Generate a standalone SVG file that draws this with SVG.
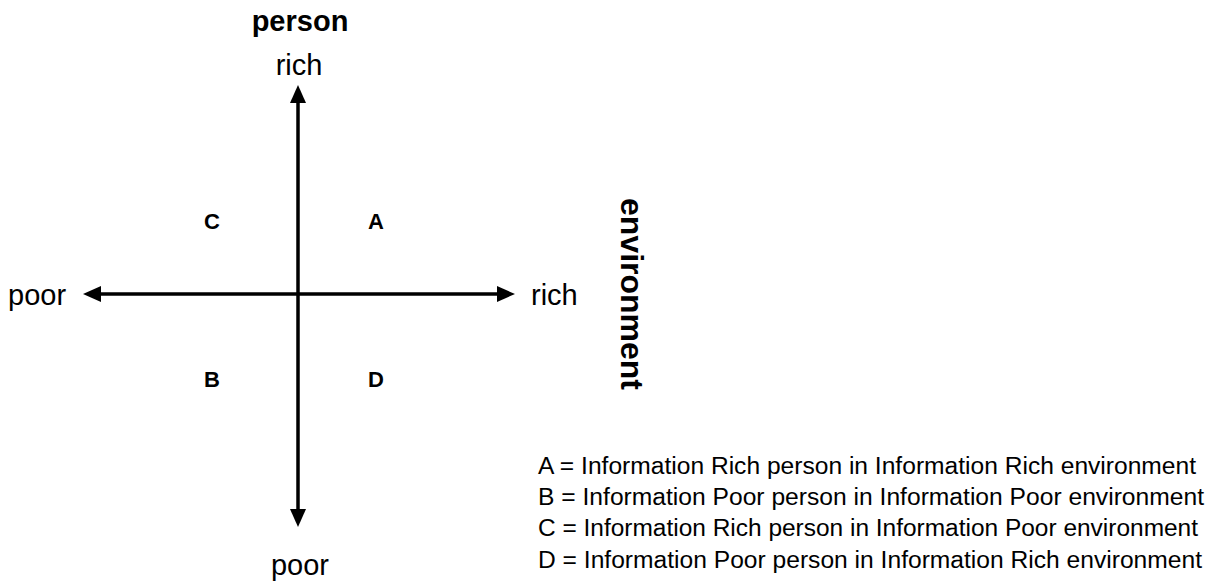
<svg xmlns="http://www.w3.org/2000/svg" width="1207" height="587" viewBox="0 0 1207 587">
<style>
.axis{stroke:#000;stroke-width:3.5;fill:none}
.lbl{font-family:"Liberation Sans",Arial,sans-serif;font-size:29px;fill:#000}
.bold{font-weight:bold}
.q{font-family:"Liberation Sans",Arial,sans-serif;font-size:22px;font-weight:bold;fill:#000;text-anchor:middle}
.leg{font-family:"Liberation Sans",Arial,sans-serif;font-size:23.5px;fill:#000}
</style>
<defs>
<marker id="ah" markerWidth="18" markerHeight="16" refX="8" refY="8" orient="auto" markerUnits="userSpaceOnUse">
<path d="M0,0 L18,8 L0,16 Z" fill="#000"/>
</marker>
</defs>
<rect width="1207" height="587" fill="#fff"/>
<g id="connectors">
<line class="axis" x1="298" y1="294" x2="298" y2="95" marker-end="url(#ah)"/>
<line class="axis" x1="298" y1="294" x2="298" y2="517" marker-end="url(#ah)"/>
<line class="axis" x1="298" y1="294" x2="93" y2="294" marker-end="url(#ah)"/>
<line class="axis" x1="298" y1="294" x2="505" y2="294" marker-end="url(#ah)"/>
</g>
<g id="person-label"><text class="lbl bold" x="300" y="31" text-anchor="middle">person</text></g>
<g id="top-rich"><text class="lbl" x="299" y="75" text-anchor="middle">rich</text></g>
<g id="bottom-poor"><text class="lbl" x="300" y="575" text-anchor="middle">poor</text></g>
<g id="left-poor"><text class="lbl" x="8" y="305">poor</text></g>
<g id="right-rich"><text class="lbl" x="531" y="305">rich</text></g>
<g id="environment-label"><text class="lbl bold" transform="translate(621,294) rotate(90)" text-anchor="middle" style="font-size:32px">environment</text></g>
<g id="quad-C"><text class="q" x="212" y="229">C</text></g>
<g id="quad-A"><text class="q" x="376" y="229">A</text></g>
<g id="quad-B"><text class="q" x="212" y="387">B</text></g>
<g id="quad-D"><text class="q" x="376" y="387">D</text></g>
<g id="legend">
<text class="leg" x="538" y="474" textLength="658" lengthAdjust="spacingAndGlyphs">A = Information Rich person in Information Rich environment</text>
<text class="leg" x="538" y="505" textLength="666" lengthAdjust="spacingAndGlyphs">B = Information Poor person in Information Poor environment</text>
<text class="leg" x="538" y="536" textLength="660" lengthAdjust="spacingAndGlyphs">C = Information Rich person in Information Poor environment</text>
<text class="leg" x="538" y="568" textLength="664" lengthAdjust="spacingAndGlyphs">D = Information Poor person in Information Rich environment</text>
</g>
</svg>
